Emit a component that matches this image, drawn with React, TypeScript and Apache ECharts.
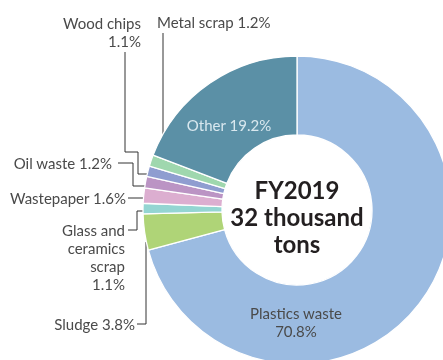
import React, { useEffect, useRef } from "react";
import * as echarts from "echarts";

// ---- data ----
const categories = [
  "Plastics waste",
  "Sludge",
  "Glass and ceramics scrap",
  "Wastepaper",
  "Oil waste",
  "Wood chips",
  "Metal scrap",
  "Other",
];
const shares = [70.8, 3.8, 1.1, 1.6, 1.2, 1.1, 1.2, 19.2];
const displayNames = [
  "Plastics waste",
  "Sludge",
  "Glass and\nceramics\nscrap",
  "Wastepaper",
  "Oil waste",
  "Wood chips",
  "Metal scrap",
  "Other",
];
const centerLines = ["FY2019", "32 thousand", "tons"];

// ---- styles / layout ----
const colors = [
  "#9bbbe1",
  "#afd477",
  "#94d5d2",
  "#dcaed0",
  "#bb94c4",
  "#8f9dd0",
  "#9fd7ae",
  "#5b90a6",
];
const separators = ["\n", " ", "\n", " ", " ", "\n", " ", " "];
const insideIdx = [0, 7];
const layout: any[] = [
  { x: 296, y: 322, align: "center", line: null },
  { x: 135, y: 324, align: "right", line: [[155, 242], [146, 242], [146, 324], [137, 324]] },
  { x: 125, y: 257, align: "right", line: [[155, 211], [137, 211], [137, 230], [128, 230]] },
  { x: 126, y: 198, align: "right", line: [[154, 198], [128, 198]] },
  { x: 112, y: 163, align: "right", line: [[146, 186], [133, 186], [133, 163], [118, 163]] },
  { x: 141, y: 32, align: "right", line: [[151, 174], [138, 174], [138, 152], [125, 152], [125, 52]] },
  { x: 157, y: 22, align: "left", line: [[163, 166], [163, 33]] },
  { x: 229, y: 125, align: "center", line: null },
];

export default function App() {
  const ref = useRef<HTMLDivElement>(null);
  useEffect(() => {
    const chart = echarts.init(ref.current!, null, { renderer: "svg" });
    const data = categories.map((name, i) => {
      const inside = insideIdx.includes(i);
      return {
        name,
        value: shares[i],
        itemStyle: { color: colors[i] },
        label: {
          position: inside ? "inside" : "outside",
          color: i === 7 ? "#d9e8ef" : "#4a4a4a",
        },
        labelLine: { show: !inside },
      };
    });
    chart.setOption({
      animation: false,
      series: [
        {
          type: "pie",
          center: [297, 210],
          radius: [75, 154],
          startAngle: 90,
          clockwise: true,
          avoidLabelOverlap: false,
          silent: true,
          itemStyle: { borderColor: "#ffffff", borderWidth: 1.3 },
          label: {
            fontFamily: "Lato",
            fontSize: 15,
            lineHeight: 18,
            formatter: (p: any) =>
              displayNames[p.dataIndex] + separators[p.dataIndex] + p.value + "%",
          },
          labelLine: { lineStyle: { color: "#333333", width: 1 } },
          labelLayout: (p: any) => {
            const L = layout[p.dataIndex];
            const out: any = { x: L.x, y: L.y, align: L.align, verticalAlign: "middle" };
            if (L.line) out.labelLinePoints = L.line;
            return out;
          },
          data,
        },
      ],
      graphic: [
        {
          type: "text",
          x: 297,
          y: 216,
          style: {
            text: centerLines.join("\n"),
            align: "center",
            verticalAlign: "middle",
            fontFamily: "Lato",
            fontWeight: "bold",
            fontSize: 24,
            lineHeight: 27,
            fill: "#231f20",
          },
        },
      ],
    });
    return () => chart.dispose();
  }, []);
  return (
    <div
      ref={ref}
      style={{ position: "fixed", left: 0, top: 0, width: 443, height: 360 }}
    />
  );
}
